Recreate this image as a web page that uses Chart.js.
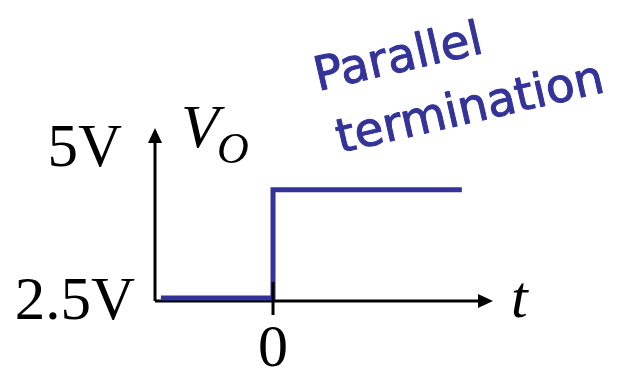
<!DOCTYPE html>
<html>
<head>
<meta charset="utf-8">
<script src="https://cdn.jsdelivr.net/npm/chart.js@4.4.0/dist/chart.umd.min.js"></script>
<style>
  body { margin: 0; background: #fff; }
  #wrap { width: 623px; height: 369px; }
</style>
</head>
<body>
<div id="wrap"><canvas id="chart-vo" width="623" height="369"></canvas></div>
<script>
// ---------------- data ----------------
const times = [-0.95, 0, 0, 1.6];          // t
const volts = [2.5, 2.5, 4.27, 4.27];      // Vo
const yTicks = [2.5, 5];
const yTickLabels = ['2.5V', '5V'];
const xTicks = [0];
const xTickLabels = ['0'];

// ---------------- style ----------------
const blue = '#333399';
const serif = '"Liberation Serif", "Times New Roman", serif';
const yLabelGap = [20, 33];   // right edge of each y label, left of the axis

const axesPlugin = {
    id: 'axesPlugin',
    beforeDatasetsDraw(chart) {
        const ctx = chart.ctx;
        const a = chart.chartArea;
        ctx.save();
        ctx.strokeStyle = '#000';
        ctx.fillStyle = '#000';
        ctx.lineWidth = 3;
        // y axis
        ctx.beginPath();
        ctx.moveTo(a.left, a.bottom);
        ctx.lineTo(a.left, a.top + 12);
        ctx.stroke();
        ctx.beginPath();
        ctx.moveTo(a.left, a.top);
        ctx.lineTo(a.left - 7, a.top + 15);
        ctx.lineTo(a.left + 7, a.top + 15);
        ctx.closePath();
        ctx.fill();
        // x axis
        ctx.beginPath();
        ctx.moveTo(a.left, a.bottom);
        ctx.lineTo(a.right - 12, a.bottom);
        ctx.stroke();
        ctx.beginPath();
        ctx.moveTo(a.right, a.bottom);
        ctx.lineTo(a.right - 15, a.bottom - 7);
        ctx.lineTo(a.right - 15, a.bottom + 7);
        ctx.closePath();
        ctx.fill();
        ctx.restore();
    },
    afterDatasetsDraw(chart) {
        const ctx = chart.ctx;
        const a = chart.chartArea;
        const xs = chart.scales.x, ys = chart.scales.y;
        ctx.save();
        ctx.fillStyle = '#000';
        ctx.strokeStyle = '#000';
        ctx.lineWidth = 3;
        // x ticks
        xTicks.forEach((v, i) => {
            const px = xs.getPixelForValue(v);
            ctx.beginPath();
            ctx.moveTo(px, a.bottom - 19);
            ctx.lineTo(px, a.bottom + 14);
            ctx.stroke();
            ctx.font = '60px ' + serif;
            ctx.textAlign = 'center';
            ctx.textBaseline = 'alphabetic';
            ctx.fillText(xTickLabels[i], px, a.bottom + 65);
        });
        // y tick labels
        yTicks.forEach((v, i) => {
            const py = ys.getPixelForValue(v);
            ctx.font = '61px ' + serif;
            ctx.textAlign = 'right';
            ctx.textBaseline = 'alphabetic';
            ctx.fillText(yTickLabels[i], a.left - yLabelGap[i], py + 21);
        });
        // axis titles
        ctx.textAlign = 'left';
        ctx.font = 'italic 62px ' + serif;
        ctx.fillText('V', a.left + 26, a.top + 19);
        ctx.font = 'italic 44px ' + serif;
        ctx.fillText('O', a.left + 62, a.top + 35);
        ctx.font = 'italic 60px ' + serif;
        ctx.fillText('t', a.right + 18, a.bottom + 16);
        // annotation
        ctx.fillStyle = blue;
        ctx.strokeStyle = blue;
        ctx.lineWidth = 1;
        ctx.lineJoin = 'round';
        ctx.font = '47px "Comic Sans MS", "DejaVu Sans", sans-serif';
        const ang = -13 * Math.PI / 180;
        [['Parallel', 318, 91], ['termination', 340, 153]].forEach(([txt, x, y]) => {
            ctx.save();
            ctx.translate(x, y);
            ctx.rotate(ang);
            ctx.fillText(txt, 0, 0);
            ctx.strokeText(txt, 0, 0);
            ctx.restore();
        });
        ctx.restore();
    }
};

const ctxVo = document.getElementById('chart-vo').getContext('2d');
const chartVo = new Chart(ctxVo, {
    type: 'line',
    data: {
        datasets: [{
            label: 'Vo',
            data: times.map((t, i) => ({ x: t, y: volts[i] })),
            borderColor: blue,
            borderWidth: 5,
            borderJoinStyle: 'miter',
            borderCapStyle: 'butt',
            pointRadius: 0,
            fill: false,
            tension: 0
        }]
    },
    options: {
        responsive: false,
        animation: false,
        layout: { padding: { left: 155, right: 130, top: 128, bottom: 68 } },
        plugins: { legend: { display: false }, tooltip: { enabled: false } },
        scales: {
            x: { type: 'linear', min: -1, max: 1.864, display: false },
            y: { type: 'linear', min: 2.451, max: 5.278, display: false }
        }
    },
    plugins: [axesPlugin]
});
</script>
</body>
</html>
